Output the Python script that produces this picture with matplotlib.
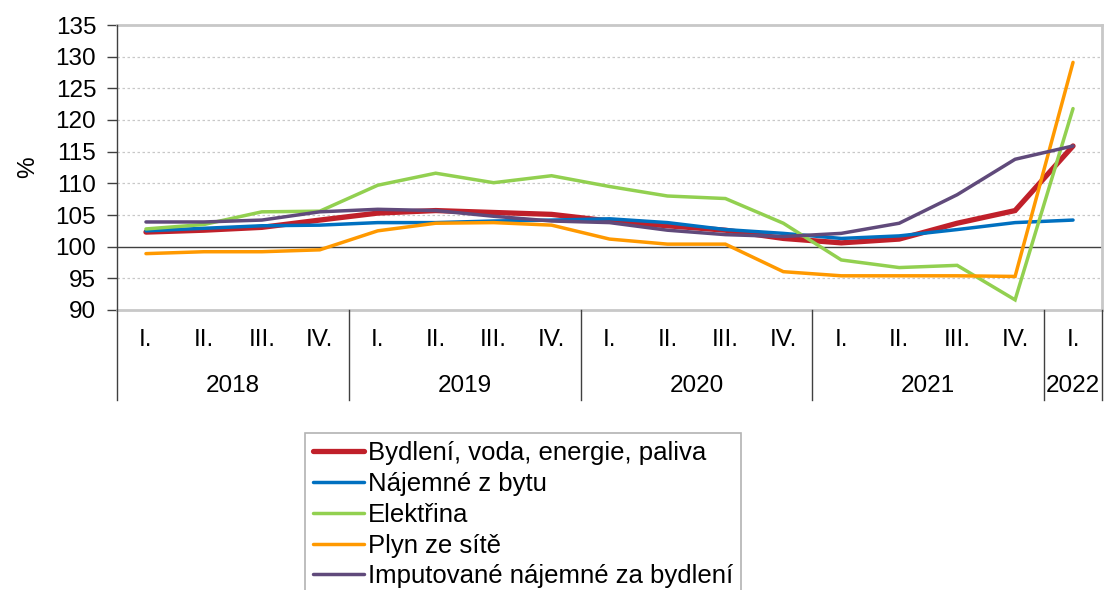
import matplotlib.pyplot as plt
import matplotlib.transforms as mtransforms

plt.rcParams['font.family'] = ['Liberation Sans', 'DejaVu Sans']

quarters = ["I.", "II.", "III.", "IV."] * 4 + ["I."]
years = ["2018", "2019", "2020", "2021", "2022"]

bydleni = [102.3, 102.6, 103.05, 104.2, 105.3, 105.7, 105.4, 105.1, 104.05, 103.3,
           102.6, 101.3, 100.6, 101.2, 103.7, 105.7, 115.9]
najemne = [102.5, 102.9, 103.3, 103.4, 103.8, 103.8, 104.05, 104.2, 104.4, 103.8,
           102.7, 102.1, 101.3, 101.7, 102.7, 103.8, 104.2]
elektrina = [102.8, 103.5, 105.5, 105.6, 109.7, 111.6, 110.1, 111.2, 109.5, 108.0,
             107.6, 103.7, 97.9, 96.7, 97.05, 91.6, 121.8]
plyn = [98.9, 99.2, 99.2, 99.5, 102.5, 103.7, 103.8, 103.4, 101.2, 100.4,
        100.4, 96.05, 95.4, 95.4, 95.4, 95.3, 129.1]
imputovane = [103.9, 103.9, 104.2, 105.5, 105.9, 105.7, 104.8, 104.05, 103.8, 102.6,
              101.9, 101.6, 102.1, 103.7, 108.2, 113.8, 115.9]

series = [
    ("Bydlení, voda, energie, paliva", bydleni, "#C0202A", 3.8),
    ("Nájemné z bytu", najemne, "#0070C0", 2.5),
    ("Elektřina", elektrina, "#92D050", 2.5),
    ("Plyn ze sítě", plyn, "#FF9900", 2.5),
    ("Imputované nájemné za bydlení", imputovane, "#604A7B", 2.5),
]

fig = plt.figure(figsize=(11.04, 5.90), dpi=100)
ax = fig.add_axes([117 / 1104, 1 - 310 / 590, 985 / 1104, 285 / 590])

x = list(range(len(quarters)))
for name, vals, col, lw in series:
    ax.plot(x, vals, color=col, lw=lw, label=name, solid_capstyle='round',
            solid_joinstyle='miter')

ax.set_xlim(-0.5, len(quarters) - 0.5)
ax.set_ylim(90, 135)
ax.set_yticks(range(90, 136, 5))
for v in range(95, 135, 5):
    if v == 100:
        ax.axhline(v, color="#404040", lw=1.0, zorder=0)
    else:
        ax.axhline(v, color="#C8C8C8", lw=0.9, ls=(0, (2, 2)), zorder=0)

for s in ["top", "right", "bottom"]:
    ax.spines[s].set_color("#C8C8C8")
    ax.spines[s].set_linewidth(2)
ax.spines["left"].set_visible(False)

ax.tick_params(axis="y", direction="out", length=7, width=1, color="#404040",
               labelsize=17.5, pad=8)
ax.set_xticks([])
ax.set_ylabel("%", fontsize=17.5, labelpad=12)

# two-level category axis
trans = mtransforms.blended_transform_factory(ax.transData, ax.transAxes)
for i, q in enumerate(quarters):
    ax.text(i, -0.105, q, transform=trans, ha="center", va="center", fontsize=17.5)
year_pos = [1.5, 5.5, 9.5, 13.5, 16]
for yr, p in zip(years, year_pos):
    ax.text(p, -0.265, yr, transform=trans, ha="center", va="center", fontsize=17.5)
for b in [-0.5, 3.5, 7.5, 11.5, 15.5, 16.5]:
    top = 1.0 if b == -0.5 else 0.0
    ax.plot([b, b], [top, -0.316], transform=trans, color="#404040", lw=1,
            clip_on=False, zorder=5)

leg = fig.legend(loc="upper left", bbox_to_anchor=(305 / 1104, 1 - 433 / 590),
                 fontsize=18.5, frameon=True, fancybox=False, edgecolor="#A0A0A0",
                 handlelength=2.0, handletextpad=0.15, labelspacing=0.27,
                 borderpad=0.3, borderaxespad=0)
leg.get_frame().set_linewidth(1.2)

fig.savefig("out.png", dpi=100)
